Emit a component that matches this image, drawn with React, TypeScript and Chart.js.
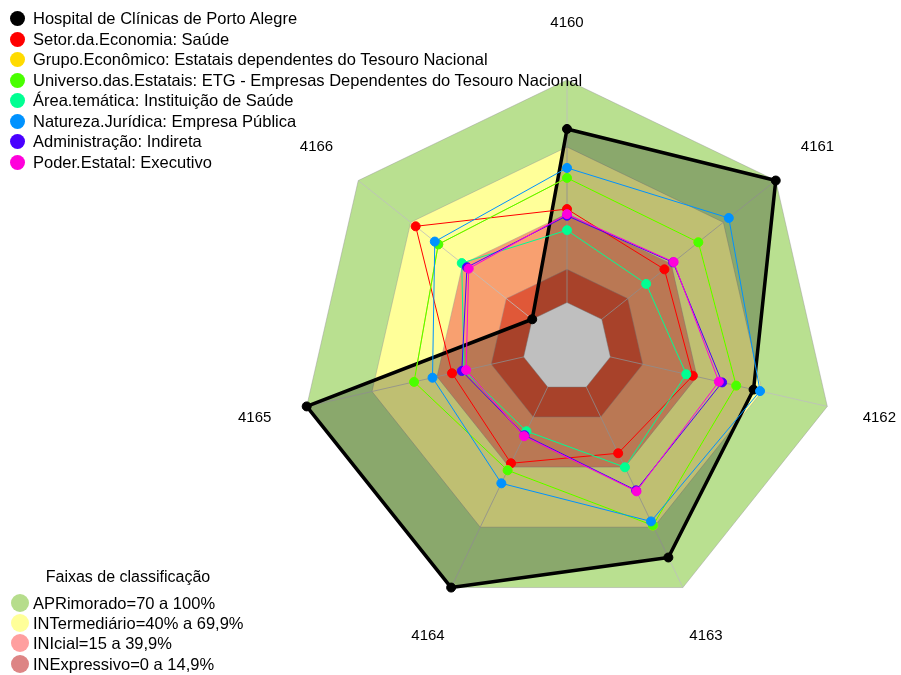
import React, { useEffect, useRef } from 'react';
import { Chart, registerables } from 'chart.js';

Chart.register(...registerables);

// ---- data ----
const categories = ['4160', '4161', '4162', '4163', '4164', '4165', '4166'];

const seriesNames = [
  'Hospital de Clínicas de Porto Alegre',
  'Setor.da.Economia: Saúde',
  'Grupo.Econômico: Estatais dependentes do Tesouro Nacional',
  'Universo.das.Estatais: ETG - Empresas Dependentes do Tesouro Nacional',
  'Área.temática: Instituição de Saúde',
  'Natureza.Jurídica: Empresa Pública',
  'Administração: Indireta',
  'Poder.Estatal: Executivo',
];

const hcpa = [78, 100, 66, 85, 100, 100, 0];
const setorSaude = [42, 36, 38, 33, 38, 33, 67];
const grupoEconomico = [56, 55.5, 58, 69, 41.5, 50.5, 54];
const universoEstatais = [56, 55.5, 58, 69, 41.5, 50.5, 54];
const areaTematica = [32.5, 25.5, 35, 40, 22, 27.5, 40.5];
const naturezaJuridica = [60.5, 73, 69, 67, 48, 42, 56];
const administracao = [39, 41, 51.5, 51.5, 24, 28.5, 37.5];
const poderEstatal = [39.7, 41.3, 50, 52, 24.5, 26.5, 36.5];

const seriesValues = [
  hcpa,
  setorSaude,
  grupoEconomico,
  universoEstatais,
  areaTematica,
  naturezaJuridica,
  administracao,
  poderEstatal,
];

const seriesColors = ['#000000', '#FF0000', '#FFDB00', '#49FF00', '#00FF92', '#0092FF', '#4900FF', '#FF00DB'];

const bandLimits = [100, 69.9, 39.9, 14.9, 0];
const bandColors = ['#b9e090', '#ffff99', '#f8a070', '#e05838', '#ffffff'];

const bandLegendTitle = 'Faixas de classificação';
const bandLegendLabels = [
  'APRimorado=70 a 100%',
  'INTermediário=40% a 69,9%',
  'INIcial=15 a 39,9%',
  'INExpressivo=0 a 14,9%',
];
const bandLegendColors = ['#b6dd8c', '#ffff99', '#ff9f9f', '#dd8585'];

const scaleMin = -20;
const scaleMax = 100;

const FONT = '"Liberation Sans", Arial, Helvetica, sans-serif';

function polyPath(ctx: CanvasRenderingContext2D, scale: any, value: number) {
  ctx.beginPath();
  for (let i = 0; i < categories.length; i++) {
    const p = scale.getPointPositionForValue(i, value);
    if (i === 0) ctx.moveTo(p.x, p.y);
    else ctx.lineTo(p.x, p.y);
  }
  ctx.closePath();
}

const bandsPlugin = {
  id: 'bands',
  beforeDraw(chart: any) {
    const scale = chart.scales.r;
    const ctx = chart.ctx as CanvasRenderingContext2D;
    ctx.save();
    for (let b = 0; b < bandLimits.length - 1; b++) {
      polyPath(ctx, scale, bandLimits[b]);
      ctx.fillStyle = bandColors[b];
      ctx.fill();
      ctx.lineWidth = 1;
      ctx.strokeStyle = 'rgba(150,150,150,0.45)';
      ctx.stroke();
    }
    ctx.restore();
  },
  beforeDatasetsDraw(chart: any) {
    const scale = chart.scales.r;
    const ctx = chart.ctx as CanvasRenderingContext2D;
    ctx.save();
    const last = bandLimits.length - 1;
    polyPath(ctx, scale, bandLimits[last]);
    ctx.fillStyle = bandColors[last];
    ctx.fill();
    ctx.lineWidth = 1;
    ctx.strokeStyle = 'rgba(150,150,150,0.45)';
    ctx.stroke();
    ctx.restore();
  },
  afterDraw(chart: any) {
    const scale = chart.scales.r;
    const ctx = chart.ctx as CanvasRenderingContext2D;
    ctx.save();
    ctx.font = '15px ' + FONT;
    ctx.fillStyle = '#000000';
    ctx.textAlign = 'center';
    ctx.textBaseline = 'middle';
    for (let i = 0; i < categories.length; i++) {
      const p = scale.getPointPosition(i, scale.drawingArea * 1.2);
      const dy = i === 0 ? -4 : 0;
      ctx.fillText(categories[i], p.x, p.y + dy);
    }
    ctx.restore();
  },
};

export default function App() {
  const canvasRef = useRef<HTMLCanvasElement | null>(null);

  useEffect(() => {
    if (!canvasRef.current) return;
    const datasets = seriesValues.map((vals, idx) => ({
      label: seriesNames[idx],
      data: vals,
      borderColor: seriesColors[idx],
      backgroundColor: idx === 0 ? 'rgba(0,0,0,0.25)' : seriesColors[idx],
      pointBackgroundColor: seriesColors[idx],
      pointBorderColor: seriesColors[idx],
      pointRadius: 4.5,
      pointBorderWidth: 1,
      borderWidth: idx === 0 ? 3.5 : 1,
      fill: idx === 0 ? 'start' : false,
      order: seriesValues.length - 1 - idx,
      tension: 0,
    }));
    const chart = new Chart(canvasRef.current, {
      type: 'radar',
      data: { labels: categories, datasets },
      options: {
        animation: false,
        responsive: true,
        maintainAspectRatio: false,
        layout: { padding: { left: 300, right: 67, top: 80, bottom: 61 } },
        plugins: {
          legend: { display: false },
          tooltip: { enabled: false },
        },
        elements: { line: { borderJoinStyle: 'round' } },
        scales: {
          r: {
            min: scaleMin,
            max: scaleMax,
            ticks: { display: false, stepSize: 20 },
            grid: { display: false },
            angleLines: { display: true, color: 'rgba(190,190,190,0.8)', lineWidth: 1 },
            pointLabels: { display: false },
          },
        },
      } as any,
      plugins: [bandsPlugin as any],
    });
    return () => chart.destroy();
  }, []);

  const rowStyle = (top: number): React.CSSProperties => ({
    position: 'absolute',
    left: 0,
    top,
    height: 20,
    display: 'flex',
    alignItems: 'center',
    whiteSpace: 'nowrap',
  });

  return (
    <div style={{ position: 'absolute', left: 0, top: 0, width: 901, height: 675, fontFamily: FONT, background: '#ffffff' }}>
      <canvas ref={canvasRef} width={901} height={675} style={{ position: 'absolute', left: 0, top: 0 }} />
      {seriesNames.map((name, i) => (
        <div key={name} style={rowStyle(8 + i * 20.5)}>
          <div style={{ position: 'absolute', left: 10, top: 3, width: 15, height: 15, borderRadius: '50%', background: seriesColors[i] }} />
          <span style={{ position: 'absolute', left: 33, fontSize: 16.5, color: '#000', lineHeight: '20px', top: 0 }}>{name}</span>
        </div>
      ))}
      <div style={{ position: 'absolute', left: 0, width: 256, top: 567, textAlign: 'center', fontSize: 16, lineHeight: '20px', color: '#000' }}>
        {bandLegendTitle}
      </div>
      {bandLegendLabels.map((lab, i) => (
        <div key={lab} style={rowStyle(593 + i * 20.2)}>
          <div style={{ position: 'absolute', left: 11, top: 1, width: 18, height: 18, borderRadius: '50%', background: bandLegendColors[i] }} />
          <span style={{ position: 'absolute', left: 33, fontSize: 16.5, color: '#000', lineHeight: '20px', top: 0 }}>{lab}</span>
        </div>
      ))}
    </div>
  );
}
